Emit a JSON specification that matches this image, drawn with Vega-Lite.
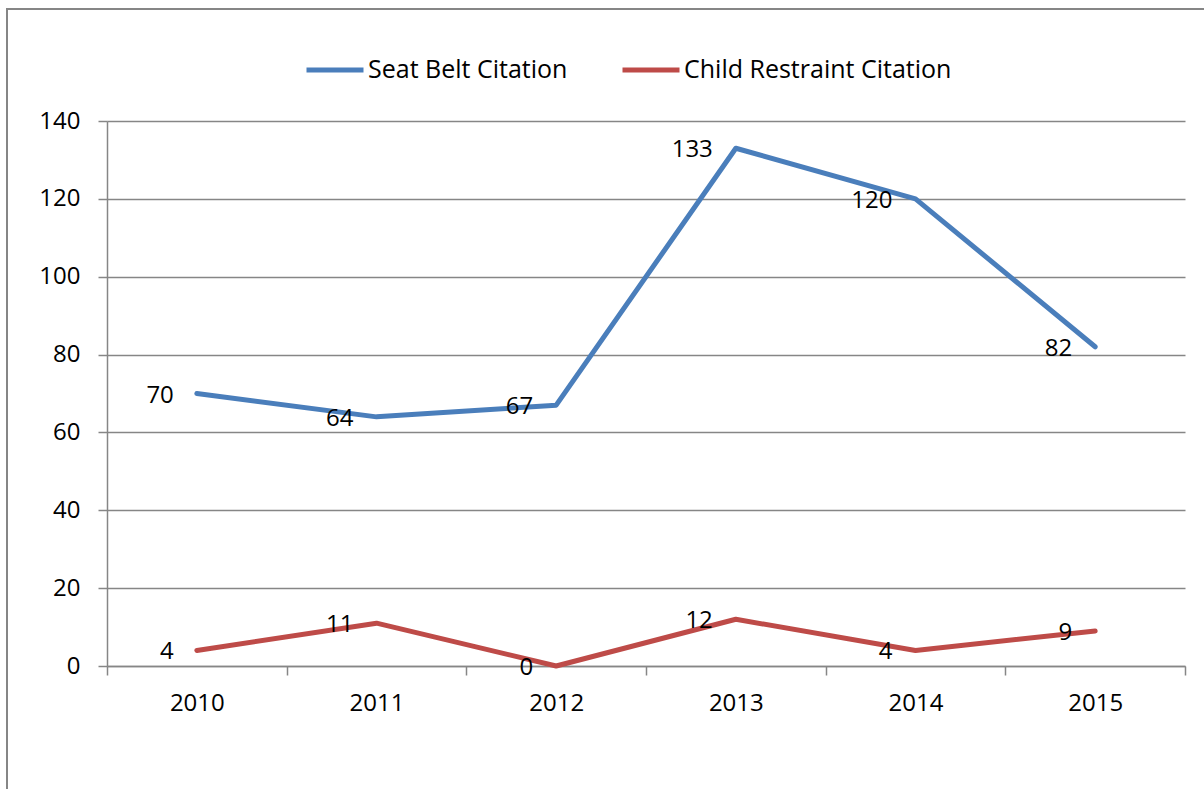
{
  "$schema": "https://vega.github.io/schema/vega-lite/v6.json",
  "autosize": "none",
  "width": 1197,
  "height": 780,
  "padding": {"left": 7, "top": 9, "right": 0, "bottom": 0},
  "background": "white",
  "config": {
    "view": {"stroke": "#868686", "strokeWidth": 2, "strokeDash": [1197, 1977, 780]},
    "font": "Open Sans",
    "text": {"font": "Open Sans"}
  },
  "data": {
    "values": [
      {"year": 2010, "series": "Seat Belt Citation", "value": 70},
      {"year": 2011, "series": "Seat Belt Citation", "value": 64},
      {"year": 2012, "series": "Seat Belt Citation", "value": 67},
      {"year": 2013, "series": "Seat Belt Citation", "value": 133},
      {"year": 2014, "series": "Seat Belt Citation", "value": 120},
      {"year": 2015, "series": "Seat Belt Citation", "value": 82},
      {"year": 2010, "series": "Child Restraint Citation", "value": 4},
      {"year": 2011, "series": "Child Restraint Citation", "value": 11},
      {"year": 2012, "series": "Child Restraint Citation", "value": 0},
      {"year": 2013, "series": "Child Restraint Citation", "value": 12},
      {"year": 2014, "series": "Child Restraint Citation", "value": 4},
      {"year": 2015, "series": "Child Restraint Citation", "value": 9}
    ]
  },
  "encoding": {
    "x": {
      "field": "year",
      "type": "quantitative",
      "scale": {"domain": [2009.5, 2015.5], "range": [100, 1178], "nice": false, "zero": false},
      "axis": {
        "title": null,
        "grid": false,
        "offset": -123,
        "values": [2009.5, 2010, 2010.5, 2011, 2011.5, 2012, 2012.5, 2013, 2013.5, 2014, 2014.5, 2015, 2015.5],
        "labelExpr": "datum.value % 1 === 0 ? toString(datum.value) : ''",
        "tickOpacity": {"expr": "datum.value % 1 === 0 ? 0 : 1"},
        "tickSize": 9,
        "tickColor": "#868686",
        "domainColor": "#868686",
        "tickWidth": 1.5,
        "domainWidth": 1.5,
        "labelFontSize": 24,
        "labelFont": "Open Sans",
        "labelColor": "#000000",
        "labelPadding": 16,
        "labelFlush": false,
        "labelOverlap": false
      }
    },
    "y": {
      "field": "value",
      "type": "quantitative",
      "scale": {"domain": [0, 140], "range": [657, 112], "nice": false},
      "axis": {
        "title": null,
        "offset": -100,
        "values": [0, 20, 40, 60, 80, 100, 120, 140],
        "grid": true,
        "gridColor": "#868686",
        "gridWidth": 1.5,
        "tickSize": 9,
        "tickColor": "#868686",
        "tickWidth": 1.5,
        "domainColor": "#868686",
        "domainWidth": 1.5,
        "labelFontSize": 24,
        "labelFont": "Open Sans",
        "labelColor": "#000000",
        "labelPadding": 18
      }
    }
  },
  "layer": [
    {
      "mark": {"type": "line", "strokeWidth": 5, "strokeCap": "round", "strokeJoin": "round"},
      "encoding": {
        "color": {
          "field": "series",
          "type": "nominal",
          "scale": {"domain": ["Seat Belt Citation", "Child Restraint Citation"], "range": ["#4A7EBB", "#BE4B48"]},
          "legend": {
            "title": null,
            "orient": "none",
            "direction": "horizontal",
            "legendX": 297,
            "legendY": 30,
            "symbolType": "stroke",
            "symbolSize": 3249,
            "symbolStrokeWidth": 5,
            "labelFontSize": 25,
            "labelFont": "Open Sans",
            "labelColor": "#000000",
            "labelOffset": 2,
            "columnPadding": 44,
            "labelLimit": 400
          }
        }
      }
    },
    {
      "mark": {"type": "text", "align": "right", "baseline": "middle", "dx": -23, "dy": 2, "fontSize": 24, "font": "Open Sans", "color": "#000000"},
      "encoding": {
        "text": {"field": "value", "type": "quantitative"}
      }
    }
  ]
}
